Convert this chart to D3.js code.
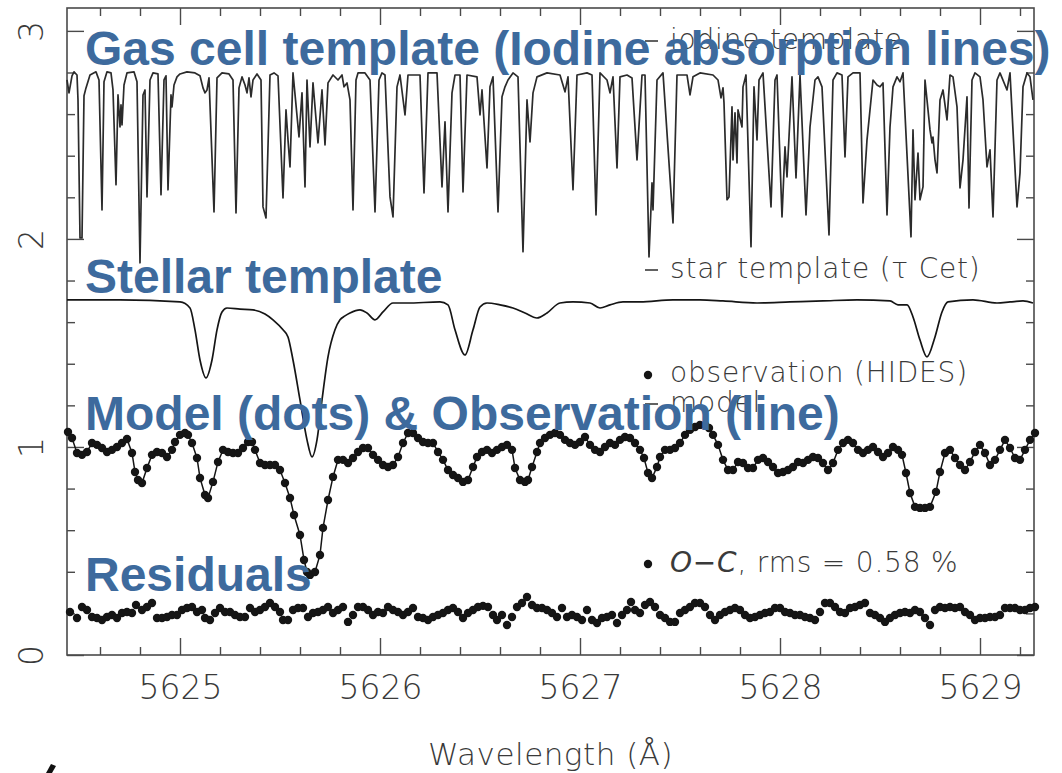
<!DOCTYPE html>
<html>
<head>
<meta charset="utf-8">
<script src="https://cdn.jsdelivr.net/npm/d3@7"></script>
<style>
  body { margin: 0; background: #fff; }
</style>
</head>
<body>
<svg id="chart" width="1062" height="773" font-family="DejaVu Sans, sans-serif"></svg>
<script>
// Iodine gas-cell template: [wavelength (Å), offset flux]
const iodineTemplate = [
  [5624.435,2.764],[5624.445,2.702],[5624.460,2.784],[5624.470,2.803],[5624.485,2.788],[5624.490,2.668],
  [5624.500,2.005],[5624.510,2.005],[5624.520,2.688],[5624.530,2.726],[5624.550,2.788],[5624.580,2.803],
  [5624.595,2.764],[5624.610,2.139],[5624.620,2.755],[5624.635,2.803],[5624.655,2.798],[5624.665,2.716],
  [5624.680,2.260],[5624.690,2.692],[5624.700,2.538],[5624.705,2.644],[5624.710,2.548],[5624.720,2.740],
  [5624.735,2.798],[5624.770,2.803],[5624.785,2.755],[5624.800,1.885],[5624.815,2.692],[5624.825,2.716],
  [5624.835,2.202],[5624.850,2.764],[5624.865,2.798],[5624.890,2.793],[5624.905,2.212],[5624.920,2.764],
  [5624.930,2.784],[5624.940,2.236],[5624.955,2.692],[5624.960,2.635],[5624.970,2.740],[5624.985,2.779],
  [5625.000,2.793],[5625.035,2.803],[5625.075,2.798],[5625.100,2.784],[5625.115,2.726],[5625.125,2.702],
  [5625.135,2.716],[5625.145,2.774],[5625.170,2.130],[5625.185,2.774],[5625.210,2.798],[5625.245,2.793],
  [5625.265,2.764],[5625.280,2.125],[5625.295,2.726],[5625.310,2.779],[5625.325,2.740],[5625.335,2.702],
  [5625.345,2.774],[5625.355,2.683],[5625.365,2.764],[5625.385,2.793],[5625.405,2.764],[5625.415,2.154],
  [5625.430,2.101],[5625.450,2.788],[5625.470,2.798],[5625.490,2.784],[5625.515,2.197],[5625.530,2.620],
  [5625.540,2.476],[5625.550,2.346],[5625.565,2.798],[5625.595,2.490],[5625.610,2.702],[5625.625,2.250],
  [5625.635,2.764],[5625.650,2.442],[5625.665,2.750],[5625.690,2.462],[5625.710,2.716],[5625.725,2.452],
  [5625.740,2.750],[5625.765,2.788],[5625.790,2.764],[5625.810,2.788],[5625.820,2.731],[5625.835,2.750],
  [5625.850,2.668],[5625.865,2.139],[5625.880,2.764],[5625.890,2.798],[5625.925,2.798],[5625.950,2.764],
  [5625.975,2.130],[5625.995,2.764],[5626.010,2.798],[5626.025,2.788],[5626.050,2.202],[5626.065,2.106],
  [5626.085,2.731],[5626.100,2.788],[5626.125,2.596],[5626.140,2.788],[5626.200,2.788],[5626.220,2.221],
  [5626.240,2.798],[5626.285,2.798],[5626.310,2.250],[5626.325,2.563],[5626.340,2.130],[5626.360,2.702],
  [5626.375,2.788],[5626.400,2.788],[5626.415,2.226],[5626.435,2.788],[5626.485,2.779],[5626.500,2.596],
  [5626.510,2.716],[5626.525,2.490],[5626.535,2.341],[5626.550,2.731],[5626.565,2.779],[5626.590,2.130],
  [5626.610,2.683],[5626.625,2.731],[5626.640,2.764],[5626.665,2.798],[5626.690,2.779],[5626.715,1.938],
  [5626.735,2.668],[5626.750,2.466],[5626.765,2.702],[5626.785,2.779],[5626.835,2.798],[5626.900,2.788],
  [5626.925,2.707],[5626.940,2.779],[5626.965,2.236],[5626.985,2.788],[5627.035,2.798],[5627.060,2.788],
  [5627.080,2.115],[5627.100,2.798],[5627.135,2.764],[5627.150,2.702],[5627.165,2.779],[5627.185,2.341],
  [5627.200,2.779],[5627.235,2.788],[5627.260,2.774],[5627.285,2.380],[5627.310,2.788],[5627.325,2.788],
  [5627.345,1.913],[5627.360,2.269],[5627.365,2.139],[5627.385,2.764],[5627.415,2.798],[5627.465,2.077],
  [5627.485,2.788],[5627.535,2.788],[5627.550,2.692],[5627.565,2.779],[5627.600,2.798],[5627.665,2.788],
  [5627.690,2.764],[5627.705,2.678],[5627.715,2.726],[5627.720,2.654],[5627.735,2.188],[5627.745,2.202],
  [5627.760,2.635],[5627.765,2.380],[5627.775,2.606],[5627.785,2.365],[5627.790,2.620],[5627.810,2.538],
  [5627.815,2.731],[5627.830,2.788],[5627.855,1.962],[5627.870,2.731],[5627.885,2.476],[5627.895,2.764],
  [5627.915,2.798],[5627.955,2.154],[5627.975,2.764],[5627.985,2.788],[5628.010,2.106],[5628.025,2.442],
  [5628.035,2.298],[5628.060,2.779],[5628.080,2.293],[5628.100,2.788],[5628.130,2.115],[5628.150,2.538],
  [5628.175,2.764],[5628.190,2.779],[5628.210,2.731],[5628.245,2.019],[5628.265,2.764],[5628.285,2.798],
  [5628.310,2.788],[5628.325,2.394],[5628.340,2.779],[5628.365,2.798],[5628.400,2.798],[5628.415,2.173],
  [5628.435,2.476],[5628.450,2.620],[5628.465,2.764],[5628.485,2.740],[5628.500,2.731],[5628.515,2.750],
  [5628.535,2.115],[5628.550,2.538],[5628.565,2.731],[5628.585,2.779],[5628.600,2.755],[5628.615,2.798],
  [5628.655,2.010],[5628.665,2.524],[5628.675,2.188],[5628.690,2.413],[5628.700,2.188],[5628.715,2.250],
  [5628.725,2.764],[5628.735,2.668],[5628.750,2.524],[5628.760,2.462],[5628.765,2.490],[5628.775,2.380],
  [5628.785,2.317],[5628.800,2.668],[5628.815,2.716],[5628.835,2.572],[5628.850,2.788],[5628.865,2.779],
  [5628.885,2.635],[5628.900,2.245],[5628.915,2.380],[5628.935,2.683],[5628.945,2.149],[5628.960,2.764],
  [5628.975,2.798],[5629.000,2.779],[5629.015,2.668],[5629.035,2.346],[5629.050,2.428],[5629.065,2.106],
  [5629.085,2.764],[5629.100,2.798],[5629.135,2.716],[5629.150,2.798],[5629.185,2.154],[5629.200,2.317],
  [5629.215,2.731],[5629.235,2.798],[5629.250,2.779],[5629.265,2.668]
];

// Stellar template of tau Cet
const stellarTemplate = [
  [5624.435,1.707],[5624.700,1.707],[5625.000,1.697],[5625.050,1.668],[5625.075,1.563],[5625.100,1.418],
  [5625.130,1.332],[5625.160,1.418],[5625.185,1.563],[5625.210,1.649],[5625.235,1.668],[5625.300,1.663],
  [5625.365,1.659],[5625.425,1.639],[5625.465,1.611],[5625.515,1.563],[5625.540,1.529],[5625.565,1.418],
  [5625.600,1.226],[5625.635,1.034],[5625.660,0.952],[5625.685,1.034],[5625.710,1.226],[5625.740,1.433],
  [5625.775,1.563],[5625.800,1.611],[5625.825,1.630],[5625.850,1.644],[5625.900,1.659],[5625.935,1.644],
  [5625.975,1.611],[5626.015,1.649],[5626.065,1.692],[5626.135,1.692],[5626.300,1.697],[5626.340,1.683],
  [5626.375,1.563],[5626.425,1.442],[5626.465,1.563],[5626.500,1.673],[5626.535,1.692],[5626.600,1.683],
  [5626.665,1.668],[5626.725,1.644],[5626.785,1.620],[5626.835,1.644],[5626.900,1.692],[5626.965,1.697],
  [5627.050,1.692],[5627.100,1.668],[5627.150,1.683],[5627.215,1.697],[5627.300,1.697],[5627.465,1.707],
  [5627.600,1.707],[5627.715,1.702],[5627.885,1.692],[5628.050,1.697],[5628.215,1.702],[5628.385,1.707],
  [5628.550,1.702],[5628.590,1.683],[5628.635,1.683],[5628.665,1.625],[5628.700,1.514],[5628.735,1.433],
  [5628.775,1.529],[5628.810,1.649],[5628.840,1.697],[5628.965,1.707],[5629.085,1.692],[5629.150,1.697],
  [5629.215,1.702],[5629.265,1.692]
];

// HIDES observation; the model curve follows these samples
const observation = [
  [5624.440,1.072],[5624.460,1.043],[5624.485,0.971],[5624.510,0.962],[5624.535,0.976],[5624.560,1.019],
  [5624.585,1.010],[5624.610,0.995],[5624.635,0.976],[5624.660,0.986],[5624.685,1.000],[5624.710,1.019],
  [5624.735,1.038],[5624.760,0.971],[5624.775,0.880],[5624.790,0.841],[5624.810,0.827],[5624.835,0.899],
  [5624.860,0.962],[5624.885,0.976],[5624.910,0.971],[5624.935,0.952],[5624.960,0.986],[5624.975,1.024],
  [5625.000,1.058],[5625.025,1.067],[5625.040,1.058],[5625.060,1.019],[5625.085,0.947],[5625.100,0.851],
  [5625.125,0.769],[5625.140,0.755],[5625.165,0.832],[5625.190,0.928],[5625.215,0.986],[5625.240,0.976],
  [5625.265,0.971],[5625.290,0.971],[5625.315,0.995],[5625.340,1.024],[5625.360,1.024],[5625.375,0.986],
  [5625.400,0.923],[5625.425,0.913],[5625.450,0.913],[5625.475,0.913],[5625.500,0.889],[5625.525,0.827],
  [5625.550,0.755],[5625.570,0.673],[5625.600,0.577],[5625.620,0.457],[5625.635,0.399],[5625.650,0.385],
  [5625.675,0.399],[5625.700,0.481],[5625.715,0.611],[5625.740,0.745],[5625.765,0.856],[5625.790,0.938],
  [5625.815,0.938],[5625.840,0.923],[5625.865,0.947],[5625.890,0.976],[5625.915,0.995],[5625.940,0.995],
  [5625.965,0.962],[5625.990,0.938],[5626.015,0.913],[5626.040,0.904],[5626.065,0.913],[5626.090,0.952],
  [5626.115,1.019],[5626.140,1.067],[5626.165,1.067],[5626.190,1.043],[5626.215,1.024],[5626.240,1.019],
  [5626.265,1.019],[5626.290,0.976],[5626.315,0.938],[5626.340,0.889],[5626.365,0.865],[5626.390,0.851],
  [5626.415,0.832],[5626.440,0.841],[5626.465,0.904],[5626.485,0.952],[5626.510,0.976],[5626.535,0.986],
  [5626.560,0.971],[5626.585,0.986],[5626.610,1.000],[5626.635,1.010],[5626.660,0.986],[5626.675,0.899],
  [5626.700,0.841],[5626.725,0.832],[5626.740,0.841],[5626.760,0.904],[5626.785,0.976],[5626.800,1.019],
  [5626.825,1.043],[5626.850,1.058],[5626.875,1.067],[5626.900,1.058],[5626.925,1.034],[5626.950,1.019],
  [5626.975,1.010],[5627.000,1.024],[5627.025,1.048],[5627.050,1.010],[5627.075,0.986],[5627.100,0.976],
  [5627.125,1.000],[5627.150,1.019],[5627.175,1.010],[5627.200,1.034],[5627.225,1.048],[5627.250,1.043],
  [5627.275,1.019],[5627.300,0.986],[5627.320,0.947],[5627.340,0.875],[5627.360,0.851],[5627.385,0.904],
  [5627.400,0.952],[5627.425,0.986],[5627.450,0.986],[5627.475,0.995],[5627.500,1.019],[5627.525,1.058],
  [5627.550,1.082],[5627.575,1.096],[5627.600,1.106],[5627.625,1.106],[5627.645,1.091],[5627.665,1.058],
  [5627.690,1.010],[5627.715,0.938],[5627.740,0.889],[5627.765,0.889],[5627.790,0.928],[5627.815,0.923],
  [5627.840,0.899],[5627.865,0.899],[5627.890,0.938],[5627.915,0.947],[5627.940,0.928],[5627.965,0.904],
  [5627.990,0.875],[5628.015,0.880],[5628.040,0.889],[5628.065,0.904],[5628.090,0.928],[5628.115,0.923],
  [5628.140,0.938],[5628.165,0.952],[5628.190,0.947],[5628.215,0.923],[5628.240,0.889],[5628.265,0.923],
  [5628.290,0.986],[5628.315,1.019],[5628.340,1.034],[5628.365,1.019],[5628.390,0.986],[5628.415,0.971],
  [5628.440,0.986],[5628.465,1.000],[5628.490,0.976],[5628.515,0.952],[5628.540,0.971],[5628.565,1.000],
  [5628.590,0.986],[5628.610,0.962],[5628.630,0.875],[5628.650,0.779],[5628.675,0.712],[5628.700,0.707],
  [5628.725,0.707],[5628.750,0.712],[5628.780,0.784],[5628.800,0.880],[5628.825,0.971],[5628.850,0.986],
  [5628.875,0.947],[5628.900,0.913],[5628.925,0.889],[5628.950,0.928],[5628.975,0.976],[5629.000,1.010],
  [5629.025,0.971],[5629.050,0.913],[5629.075,0.938],[5629.100,0.986],[5629.125,1.034],[5629.150,0.995],
  [5629.175,0.947],[5629.200,0.938],[5629.225,0.986],[5629.250,1.034],[5629.275,1.067]
];

// O-C residuals (offset for display)
const residuals = [
  [5624.450,0.207],[5624.485,0.178],[5624.510,0.231],[5624.535,0.216],[5624.560,0.183],[5624.585,0.178],
  [5624.610,0.168],[5624.635,0.183],[5624.660,0.192],[5624.685,0.178],[5624.710,0.202],[5624.735,0.207],
  [5624.760,0.202],[5624.780,0.240],[5624.810,0.216],[5624.835,0.231],[5624.860,0.250],[5624.885,0.178],
  [5624.910,0.178],[5624.935,0.183],[5624.960,0.192],[5624.985,0.192],[5625.010,0.216],[5625.035,0.226],
  [5625.060,0.231],[5625.085,0.207],[5625.110,0.216],[5625.125,0.178],[5625.150,0.168],[5625.175,0.202],
  [5625.200,0.226],[5625.225,0.207],[5625.250,0.207],[5625.275,0.192],[5625.300,0.183],[5625.325,0.183],
  [5625.350,0.226],[5625.375,0.207],[5625.400,0.216],[5625.425,0.231],[5625.450,0.250],[5625.475,0.231],
  [5625.500,0.207],[5625.515,0.168],[5625.540,0.168],[5625.565,0.216],[5625.590,0.226],[5625.615,0.226],
  [5625.640,0.183],[5625.665,0.202],[5625.690,0.207],[5625.715,0.216],[5625.740,0.231],[5625.765,0.202],
  [5625.790,0.216],[5625.815,0.231],[5625.840,0.159],[5625.865,0.192],[5625.890,0.231],[5625.915,0.231],
  [5625.940,0.216],[5625.965,0.192],[5625.990,0.207],[5626.015,0.202],[5626.040,0.231],[5626.065,0.216],
  [5626.090,0.207],[5626.115,0.192],[5626.140,0.207],[5626.165,0.226],[5626.190,0.183],[5626.215,0.178],
  [5626.240,0.168],[5626.265,0.183],[5626.290,0.192],[5626.315,0.202],[5626.340,0.216],[5626.365,0.226],
  [5626.390,0.207],[5626.415,0.178],[5626.440,0.202],[5626.465,0.216],[5626.490,0.231],[5626.515,0.236],
  [5626.540,0.231],[5626.565,0.192],[5626.585,0.168],[5626.610,0.192],[5626.635,0.144],[5626.660,0.183],
  [5626.685,0.231],[5626.710,0.250],[5626.735,0.279],[5626.760,0.240],[5626.785,0.226],[5626.810,0.226],
  [5626.835,0.216],[5626.860,0.202],[5626.885,0.183],[5626.910,0.226],[5626.935,0.183],[5626.960,0.192],
  [5626.985,0.183],[5627.010,0.168],[5627.035,0.216],[5627.060,0.168],[5627.085,0.154],[5627.110,0.178],
  [5627.135,0.183],[5627.160,0.192],[5627.185,0.154],[5627.210,0.192],[5627.235,0.216],[5627.255,0.255],
  [5627.275,0.216],[5627.300,0.202],[5627.325,0.240],[5627.350,0.255],[5627.375,0.231],[5627.400,0.192],
  [5627.425,0.178],[5627.450,0.159],[5627.475,0.159],[5627.500,0.202],[5627.525,0.216],[5627.550,0.231],
  [5627.575,0.250],[5627.600,0.250],[5627.625,0.231],[5627.650,0.192],[5627.675,0.168],[5627.700,0.192],
  [5627.725,0.207],[5627.750,0.216],[5627.775,0.226],[5627.800,0.216],[5627.825,0.192],[5627.850,0.178],
  [5627.875,0.183],[5627.900,0.192],[5627.925,0.202],[5627.950,0.207],[5627.975,0.226],[5628.000,0.226],
  [5628.025,0.207],[5628.050,0.202],[5628.075,0.192],[5628.100,0.192],[5628.125,0.183],[5628.150,0.178],
  [5628.175,0.168],[5628.200,0.207],[5628.225,0.250],[5628.250,0.250],[5628.275,0.231],[5628.300,0.207],
  [5628.325,0.202],[5628.350,0.226],[5628.375,0.231],[5628.400,0.240],[5628.425,0.250],[5628.450,0.202],
  [5628.475,0.192],[5628.500,0.178],[5628.525,0.159],[5628.550,0.178],[5628.575,0.192],[5628.600,0.202],
  [5628.625,0.207],[5628.650,0.202],[5628.675,0.216],[5628.700,0.207],[5628.725,0.178],[5628.750,0.144],
  [5628.775,0.216],[5628.800,0.231],[5628.825,0.226],[5628.850,0.231],[5628.875,0.226],[5628.900,0.231],
  [5628.925,0.207],[5628.950,0.192],[5628.975,0.168],[5629.000,0.178],[5629.025,0.178],[5629.050,0.183],
  [5629.075,0.183],[5629.100,0.192],[5629.125,0.226],[5629.150,0.226],[5629.175,0.226],[5629.200,0.216],
  [5629.225,0.216],[5629.250,0.226],[5629.275,0.231]
];

const xMajorTicks = [5625, 5626, 5627, 5628, 5629];
const xMinorTicks = [5624.6, 5624.8, 5625.2, 5625.4, 5625.6, 5625.8, 5626.2, 5626.4, 5626.6, 5626.8,
                     5627.2, 5627.4, 5627.6, 5627.8, 5628.2, 5628.4, 5628.6, 5628.8, 5629.2];
const yMajorTicks = [0, 1, 2, 3];
const yMinorTicks = [0.2, 0.4, 0.6, 0.8, 1.2, 1.4, 1.6, 1.8, 2.2, 2.4, 2.6, 2.8];

const legendLabels = ["iodine template", "star template (\u03c4 Cet)", "observation (HIDES)", "model"];
const residualLabel = ["O\u2212C", ", rms = 0.58 %"];
const panelTitles = ["Gas cell template (Iodine absorption lines)", "Stellar template",
                     "Model (dots) & Observation (line)", "Residuals"];
const xTitle = "Wavelength (\u00c5)";

// ---- layout ----
const svg = d3.select("#chart");
const plotL = 67, plotR = 1034, plotT = 8, plotB = 655;
const x = d3.scaleLinear().domain([5624.435, 5629.27]).range([plotL, plotR]);
const y = d3.scaleLinear().domain([0, 3.11]).range([plotB, plotT]);

const axisColor = "#4a4a4a";
const inkColor = "#151515";
const labelColor = "#3a3a3a";
const titleBlue = "#3d6a9d";
const thinFont = "DejaVu Sans, sans-serif";

// ---- frame and ticks ----
function styleAxis(g) {
  g.select(".domain").remove();
  g.selectAll(".tick line").attr("stroke", axisColor).attr("stroke-width", 1.4);
}
const axes = svg.append("g");
// bottom
axes.append("g").attr("transform", `translate(0,${plotB})`)
  .call(d3.axisBottom(x).tickValues(xMajorTicks).tickSize(-17).tickPadding(21).tickFormat(d3.format("d")))
  .call(styleAxis)
  .call(g => g.attr("font-family", thinFont).attr("font-size", 33))
  .call(g => g.selectAll("text").attr("fill", labelColor).attr("font-weight", 200));
axes.append("g").attr("transform", `translate(0,${plotB})`)
  .call(d3.axisBottom(x).tickValues(xMinorTicks).tickSize(-8).tickFormat(""))
  .call(styleAxis);
// top
axes.append("g").attr("transform", `translate(0,${plotT})`)
  .call(d3.axisTop(x).tickValues(xMajorTicks).tickSize(-17).tickFormat(""))
  .call(styleAxis);
axes.append("g").attr("transform", `translate(0,${plotT})`)
  .call(d3.axisTop(x).tickValues(xMinorTicks).tickSize(-8).tickFormat(""))
  .call(styleAxis);
// left
axes.append("g").attr("transform", `translate(${plotL},0)`)
  .call(d3.axisLeft(y).tickValues(yMajorTicks).tickSize(-17).tickFormat(d3.format("d")))
  .call(styleAxis)
  .call(g => g.attr("font-family", thinFont).attr("font-size", 33))
  .call(g => g.selectAll("text")
      .attr("transform", "rotate(-90)")
      .attr("x", 0).attr("y", -36).attr("dy", "0.36em")
      .attr("text-anchor", "middle")
      .attr("fill", labelColor).attr("font-weight", 200));
axes.append("g").attr("transform", `translate(${plotL},0)`)
  .call(d3.axisLeft(y).tickValues(yMinorTicks).tickSize(-8).tickFormat(""))
  .call(styleAxis);
// right
axes.append("g").attr("transform", `translate(${plotR},0)`)
  .call(d3.axisRight(y).tickValues(yMajorTicks).tickSize(-17).tickFormat(""))
  .call(styleAxis);
axes.append("g").attr("transform", `translate(${plotR},0)`)
  .call(d3.axisRight(y).tickValues(yMinorTicks).tickSize(-8).tickFormat(""))
  .call(styleAxis);

svg.append("rect")
  .attr("x", plotL).attr("y", plotT).attr("width", plotR - plotL).attr("height", plotB - plotT)
  .attr("fill", "none").attr("stroke", axisColor).attr("stroke-width", 1.6);

svg.append("text")
  .attr("x", (plotL + plotR) / 2).attr("y", 765)
  .attr("text-anchor", "middle").attr("font-family", thinFont)
  .attr("font-size", 31).attr("font-weight", 200)
  .attr("fill", labelColor).attr("letter-spacing", 0.5)
  .text(xTitle);

// ---- spectra ----
const line = d3.line().x(d => x(d[0])).y(d => y(d[1]));

svg.append("path").datum(iodineTemplate)
  .attr("d", line)
  .attr("fill", "none").attr("stroke", "#2b2b2b").attr("stroke-width", 1.7)
  .attr("stroke-linejoin", "round");

svg.append("path").datum(stellarTemplate)
  .attr("d", line.curve(d3.curveMonotoneX))
  .attr("fill", "none").attr("stroke", inkColor).attr("stroke-width", 1.7);
line.curve(d3.curveLinear);

svg.append("path").datum(observation)
  .attr("d", line)
  .attr("fill", "none").attr("stroke", inkColor).attr("stroke-width", 1.5);

svg.append("g").selectAll("circle").data(observation).join("circle")
  .attr("cx", d => x(d[0])).attr("cy", d => y(d[1])).attr("r", 4.2)
  .attr("fill", inkColor);

svg.append("g").selectAll("circle").data(residuals).join("circle")
  .attr("cx", d => x(d[0])).attr("cy", d => y(d[1])).attr("r", 4.2)
  .attr("fill", inkColor);

// ---- legend ----
const legend = svg.append("g").attr("font-family", thinFont)
  .attr("font-size", 28).attr("font-weight", 200)
  .attr("fill", labelColor).attr("letter-spacing", 0.8);
const legendRows = [
  { label: legendLabels[0], mark: "dash", base: 49 },
  { label: legendLabels[1], mark: "dash", base: 278 },
  { label: legendLabels[2], mark: "dot",  base: 382 },
  { label: legendLabels[3], mark: "dash", base: 412 }
];
legendRows.forEach(r => {
  if (r.mark === "dash") {
    legend.append("line").attr("x1", 645).attr("x2", 658)
      .attr("y1", r.base - 8).attr("y2", r.base - 8)
      .attr("stroke", labelColor).attr("stroke-width", 1.6);
  } else {
    legend.append("circle").attr("cx", 648).attr("cy", r.base - 7).attr("r", 4.2).attr("fill", inkColor);
  }
  legend.append("text").attr("x", 670).attr("y", r.base).text(r.label);
});
legend.append("circle").attr("cx", 648).attr("cy", 564).attr("r", 4.2).attr("fill", inkColor);
const oc = legend.append("text").attr("x", 670).attr("y", 572);
oc.append("tspan").attr("font-style", "italic").text(residualLabel[0]);
oc.append("tspan").attr("xml:space", "preserve").text(residualLabel[1]);

// ---- panel titles ----
const titleBases = [65, 293, 430, 591];
svg.append("g")
  .attr("font-family", "Liberation Sans, Arial, Helvetica, sans-serif")
  .attr("font-weight", "bold").attr("font-size", 48)
  .attr("fill", titleBlue)
  .selectAll("text").data(panelTitles).join("text")
  .attr("x", 85).attr("y", (d, i) => titleBases[i])
  .text(d => d);

// dark stroke fragment at the lower-left corner
svg.append("path")
  .attr("d", "M46,773 L51,764 L56,766 L52,773 Z")
  .attr("fill", "#111");
</script>
</body>
</html>
